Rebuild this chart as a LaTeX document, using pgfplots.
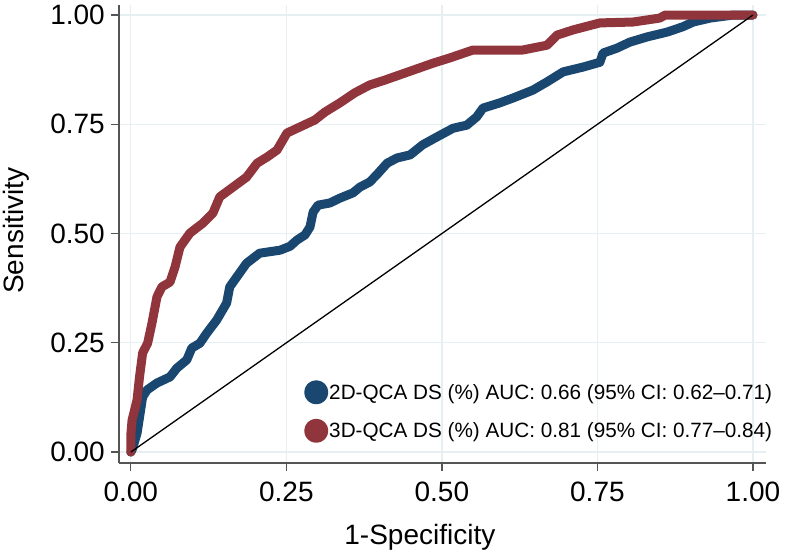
\documentclass[border=0pt]{standalone}
\usepackage{fontspec}
\setmainfont{Liberation Sans}
\usepackage{pgfplots}
\pgfplotsset{compat=1.18}
\definecolor{c2d}{HTML}{1A476F}
\definecolor{c3d}{HTML}{90353B}
\definecolor{gridc}{HTML}{E6EFF1}
\definecolor{axc}{HTML}{555555}
\begin{document}
\begin{tikzpicture}
\path[use as bounding box] (-119pt,-96pt) rectangle (667pt,463pt);
\begin{axis}[
  scale only axis, width=647pt, height=458pt,
  xmin=-0.019, xmax=1.021, ymin=-0.025, ymax=1.023,
  axis x line*=bottom, axis y line*=left,
  axis line style={-, axc, line width=1.3pt},
  every tick/.style={axc, line width=1.3pt},
  tick align=outside, major tick length=8pt,
  xtick={0,0.25,0.5,0.75,1}, ytick={0,0.25,0.5,0.75,1},
  grid=major, major grid style={gridc, line width=1.3pt},
  /pgf/number format/assume math mode=true,
  /pgf/number format/.cd, fixed, fixed zerofill, precision=2, /pgfplots/.cd,
  ticklabel style={font=\fontsize{28}{33}\selectfont, inner sep=0pt},
  xticklabel style={yshift=-11pt},
  yticklabel style={xshift=-6pt},
  xlabel={1-Specificity}, ylabel={Sensitivity},
  label style={font=\fontsize{28}{33}\selectfont, inner sep=0pt},
  xlabel style={at={(axis description cs:0.465,-0.179)}, anchor=base},
  ylabel style={at={(axis description cs:-0.179,0.507)}, anchor=north, rotate=0},
  clip=false,
  legend style={draw=none, fill=none, at={(axis description cs:0.286,0.181)}, anchor=north west,
    inner sep=0pt, row sep=14.5pt, font=\fontsize{20.7}{25}\selectfont,
    nodes={inner sep=1pt}, cells={anchor=west}},
  legend cell align=left,
]
\addplot[c2d, line width=9pt, line join=round, line cap=round,
  legend image code/.code={\fill[c2d] (7.5pt,0pt) circle (7.5pt);}] coordinates {
(0,0) (0.002,0.005) (0.010,0.043) (0.014,0.080) (0.019,0.126) (0.026,0.142)
(0.042,0.158) (0.063,0.172) (0.074,0.192) (0.090,0.211) (0.098,0.238) (0.111,0.249)
(0.122,0.272) (0.138,0.302) (0.154,0.341) (0.159,0.378) (0.175,0.410) (0.186,0.432)
(0.207,0.455) (0.240,0.462) (0.256,0.471) (0.267,0.485) (0.280,0.497) (0.288,0.515)
(0.293,0.549) (0.301,0.565) (0.320,0.570) (0.336,0.581) (0.357,0.593) (0.368,0.606)
(0.384,0.618) (0.395,0.634) (0.412,0.661) (0.428,0.673) (0.449,0.680) (0.469,0.703)
(0.492,0.721) (0.518,0.741) (0.540,0.748) (0.556,0.767) (0.566,0.787) (0.593,0.799)
(0.614,0.810) (0.646,0.828) (0.669,0.847) (0.695,0.870) (0.727,0.881) (0.754,0.892)
(0.759,0.913) (0.781,0.924) (0.802,0.938) (0.830,0.950) (0.862,0.961) (0.887,0.973)
(0.904,0.984) (0.931,0.993) (0.968,1.0) (1,1)
};
\addlegendentry{2D-QCA DS (\%) AUC: 0.66 (95\% CI: 0.62–0.71)}
\addplot[c3d, line width=9pt, line join=round, line cap=round,
  legend image code/.code={\fill[c3d] (7.5pt,0pt) circle (7.5pt);}] coordinates {
(0,0) (0,0.039) (0.002,0.073) (0.010,0.119) (0.014,0.172) (0.019,0.227) (0.027,0.249)
(0.034,0.295) (0.042,0.355) (0.050,0.378) (0.063,0.389) (0.071,0.423) (0.079,0.469)
(0.095,0.501) (0.116,0.524) (0.132,0.547) (0.143,0.584) (0.164,0.606) (0.186,0.629)
(0.203,0.661) (0.219,0.675) (0.235,0.691) (0.251,0.730) (0.272,0.744) (0.296,0.760)
(0.312,0.778) (0.336,0.799) (0.360,0.822) (0.384,0.840) (0.408,0.851) (0.432,0.863)
(0.486,0.890) (0.513,0.902) (0.550,0.920) (0.630,0.920) (0.669,0.931) (0.685,0.954)
(0.711,0.966) (0.754,0.982) (0.807,0.984) (0.850,0.993) (0.859,1.0) (1,1)
};
\addlegendentry{3D-QCA DS (\%) AUC: 0.81 (95\% CI: 0.77–0.84)}
\addplot[black, line width=1.3pt, forget plot] coordinates {(0,0) (1,1)};
\end{axis}
\end{tikzpicture}
\end{document}
